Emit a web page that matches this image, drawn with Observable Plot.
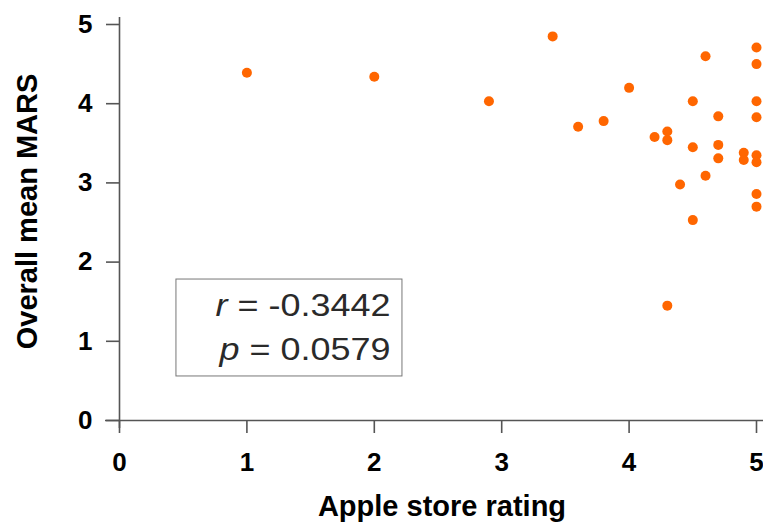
<!DOCTYPE html>
<html><head><meta charset="utf-8">
<script src="https://cdn.jsdelivr.net/npm/d3@7"></script>
<script src="https://cdn.jsdelivr.net/npm/@observablehq/plot@0.6"></script>
<style>body{margin:0;background:#fff}</style>
</head><body><div id="chart"></div>
<script>
const appleRating = [1.0, 2.0, 2.9, 3.4, 3.6, 3.8, 4.0, 4.2, 4.3, 4.3, 4.3, 4.4, 4.5, 4.5, 4.5, 4.6, 4.6, 4.7, 4.7, 4.7, 4.9, 4.9, 5, 5, 5, 5, 5, 5, 5, 5];
const marsScore   = [4.39, 4.34, 4.03, 4.85, 3.71, 3.78, 4.20, 3.58, 3.65, 3.54, 1.45, 2.98, 4.03, 3.45, 2.53, 4.60, 3.09, 3.84, 3.48, 3.31, 3.38, 3.29, 4.71, 4.50, 4.03, 3.83, 3.35, 3.26, 2.86, 2.70];
const xTicks = [0, 1, 2, 3, 4, 5];
const yTicks = [0, 1, 2, 3, 4, 5];
const xLabel = "Apple store rating";
const yLabel = "Overall mean MARS";
const statSymbols = ["r", "p"];
const statValues = [" = -0.3442", " = 0.0579"];
const statRows = [1.32, 0.77];

const points = appleRating.map((x, i) => ({x, y: marsScore[i]}));
const stats = statSymbols.map((s, i) => ({sym: s, val: statValues[i], row: statRows[i]}));

const axisColor = "#555";
const chart = Plot.plot({
  width: 763, height: 522,
  marginLeft: 119, marginRight: 7, marginTop: 24, marginBottom: 102,
  style: {fontFamily: "'Liberation Sans', Arial, sans-serif", background: "#fff", color: "#000"},
  x: {domain: [0, 5]},
  y: {domain: [0, 5]},
  marks: [
    Plot.rect([0], {x1: 0.447, x2: 2.221, y1: 0.556, y2: 1.78, fill: "#fff", stroke: "#777", strokeWidth: 1}),
    Plot.text(stats, {x: () => 2.127, y: "row", text: d => d.sym + d.val, textAnchor: "end", lineAnchor: "bottom", fontSize: 31, fill: "#2a2a2a"}),
    Plot.ruleY([0], {stroke: axisColor, strokeWidth: 1.6, insetLeft: -14, insetRight: -7}),
    Plot.ruleX([0], {stroke: axisColor, strokeWidth: 1.6, insetTop: -7, insetBottom: -8}),
    Plot.axisX(xTicks, {tickSize: 13, tickPadding: 19, tickFormat: "d", stroke: axisColor, strokeWidth: 1.6, fill: "#000", fontSize: 26, fontWeight: "bold", label: null}),
    Plot.axisY(yTicks, {tickSize: 13, tickPadding: 14, tickFormat: "d", stroke: axisColor, strokeWidth: 1.6, fill: "#000", fontSize: 26, fontWeight: "bold", label: null}),
    Plot.dot(points, {x: "x", y: "y", r: 5, fill: "#ff6600", stroke: "none"}),
    Plot.text([xLabel], {frameAnchor: "bottom", dx: 4, dy: 86, lineAnchor: "middle", textAnchor: "middle", text: d => d, fontSize: 29, fontWeight: "bold", fill: "#000"}),
    Plot.text([yLabel], {frameAnchor: "left", dx: -92, dy: -11, rotate: -90, lineAnchor: "middle", textAnchor: "middle", text: d => d, fontSize: 29, fontWeight: "bold", fill: "#000"})
  ]
});
document.getElementById("chart").appendChild(chart);

// italicise the statistic symbols and widen to the reference's letterforms
d3.select(chart).selectAll("text").each(function() {
  const t = this.textContent;
  const s = stats.find(d => t === d.sym + d.val);
  if (s) {
    const el = d3.select(this);
    el.text(null);
    el.append("tspan").attr("font-style", "italic").text(s.sym);
    el.append("tspan").text(s.val);
    const w = this.getComputedTextLength();
    el.attr("textLength", w * 1.16).attr("lengthAdjust", "spacingAndGlyphs");
  }
});
</script>
</body></html>
